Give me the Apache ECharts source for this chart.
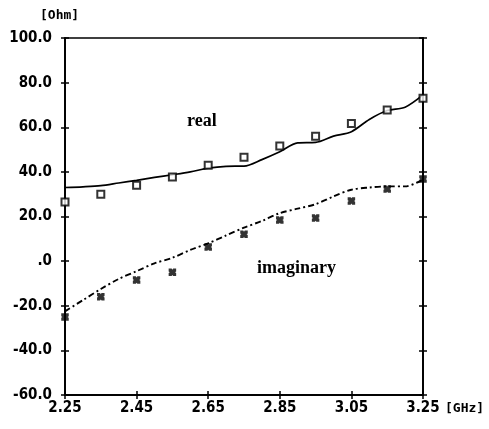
<!DOCTYPE html>
<html>
<head>
<meta charset="utf-8">
<script src="https://cdn.jsdelivr.net/npm/echarts@6/dist/echarts.min.js"></script>
<style>html,body{margin:0;padding:0;background:#fff;}#c{width:489px;height:429px;}</style>
</head>
<body>
<div id="c"></div>
<script>
// Frequency grid (GHz) for the traced curves
var freqs = ['2.25','2.30','2.35','2.40','2.45','2.50','2.55','2.60','2.65','2.70','2.75',
             '2.80','2.85','2.90','2.95','3.00','3.05','3.10','3.15','3.20','3.25'];
// Solid "real" curve (Ohm)
var realCurve = [33, 33.3, 33.8, 35, 36.2, 37.5, 38.7, 40, 41.7, 42.5, 42.6,
                 45.5, 49, 53, 53.2, 56, 58, 63.5, 67.5, 69, 74.5];
// Dash-dot "imaginary" curve (Ohm)
var imagCurve = [-22.5, -17.5, -12.5, -8, -4.5, -1, 1.5, 5, 8, 11.5, 15,
                 18, 21.5, 23.5, 25.5, 29, 32, 33, 33.5, 33.5, 36.5];
// Marker frequencies
var markerFreqs = ['2.25','2.35','2.45','2.55','2.65','2.75','2.85','2.95','3.05','3.15','3.25'];
// Square markers (real)
var realMarks = [26.5, 30, 34, 37.7, 43, 46.6, 51.6, 56, 61.7, 67.7, 73];
// Cross markers (imaginary)
var imagMarks = [-25, -16, -8.5, -5, 6.3, 12, 18.4, 19.3, 27, 32.3, 36.8];
// Axis range / units
var yMin = -60, yMax = 100, yStep = 20;
var xUnit = '[GHz]', yUnit = '[Ohm]';

var tickFont = 'DejaVu Sans Condensed';
function pairs(xs, ys){ return xs.map(function(x,i){ return [x, ys[i]]; }); }

var xBase = {
  type: 'category', data: freqs, boundaryGap: false, position: 'bottom',
  axisLine: {onZero: false, lineStyle: {color: '#000', width: 1.5}},
  splitLine: {show: false}
};
var yBase = {
  type: 'value', min: yMin, max: yMax, interval: yStep,
  axisLine: {show: true, onZero: false, lineStyle: {color: '#000', width: 1.5}},
  splitLine: {show: false}
};
var tickStyle = {color: '#000', width: 1.5};

var chart = echarts.init(document.getElementById('c'), null, {renderer: 'canvas'});
chart.setOption({
  animation: false,
  backgroundColor: '#fff',
  grid: {left: 65, right: 66, top: 38, bottom: 34, show: true, borderColor: '#000', borderWidth: 1.5},
  xAxis: [
    Object.assign({}, xBase, {
      axisTick: {show: true, inside: false, length: 4, interval: 3, lineStyle: tickStyle},
      axisLabel: {interval: 3, color: '#000', fontFamily: tickFont, fontWeight: 'bold', fontSize: 15, margin: 6}
    }),
    Object.assign({}, xBase, {
      axisTick: {show: true, inside: true, length: 4, interval: 3, lineStyle: tickStyle},
      axisLabel: {show: false}
    })
  ],
  yAxis: [
    Object.assign({}, yBase, {
      position: 'left',
      axisTick: {show: true, inside: false, length: 4, lineStyle: tickStyle},
      axisLabel: {color: '#000', fontFamily: tickFont, fontWeight: 'bold', fontSize: 15, margin: 13,
        formatter: function(v){ return v === 0 ? '.0' : v.toFixed(1); }}
    }),
    Object.assign({}, yBase, {
      position: 'left',
      axisTick: {show: true, inside: true, length: 4, lineStyle: tickStyle},
      axisLabel: {show: false}
    }),
    Object.assign({}, yBase, {
      position: 'right',
      axisTick: {show: true, inside: false, length: 4, lineStyle: tickStyle},
      axisLabel: {show: false}
    }),
    Object.assign({}, yBase, {
      position: 'right',
      axisTick: {show: true, inside: true, length: 4, lineStyle: tickStyle},
      axisLabel: {show: false}
    })
  ],
  series: [
    {
      type: 'line', name: 'real', data: realCurve, smooth: 0.3, symbol: 'none',
      lineStyle: {color: '#000', width: 1.7}, z: 3
    },
    {
      type: 'line', name: 'imaginary', data: imagCurve, smooth: 0.3, symbol: 'none',
      lineStyle: {color: '#000', width: 1.9, type: [6, 3, 2, 3]}, z: 3
    },
    {
      type: 'scatter', data: pairs(markerFreqs, realMarks), symbol: 'rect', symbolSize: 7,
      itemStyle: {color: '#fff', borderColor: '#000', borderWidth: 2}, z: 4
    },
    {
      type: 'scatter', data: pairs(markerFreqs, imagMarks),
      symbol: 'path://M0,0 L4,0 L5,1.5 L6,0 L10,0 L10,4 L8.5,5 L10,6 L10,10 L6,10 L5,8.5 L4,10 L0,10 L0,6 L1.5,5 L0,4 Z',
      symbolSize: 7.5, itemStyle: {color: '#000'}, z: 4
    }
  ],
  graphic: [
    {type: 'text', left: 40, top: 9, style: {text: yUnit, font: 'bold 13px "DejaVu Sans Mono"', fill: '#000'}},
    {type: 'text', left: 445, top: 402, style: {text: xUnit, font: 'bold 13px "DejaVu Sans Mono"', fill: '#000'}},
    {type: 'text', left: 187, top: 112, style: {text: 'real', font: 'bold 18px "Liberation Serif"', fill: '#000'}},
    {type: 'text', left: 257, top: 259, style: {text: 'imaginary', font: 'bold 18px "Liberation Serif"', fill: '#000'}}
  ]
});
</script>
</body>
</html>
